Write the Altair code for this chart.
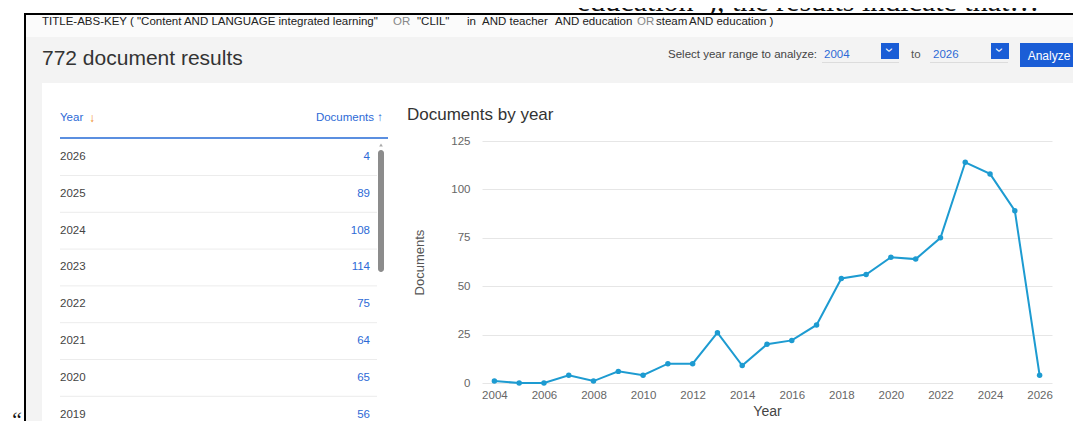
import altair as alt
import pandas as pd

# ---------------- data ----------------
years = list(range(2004, 2027))
docs = [1, 0, 0, 4, 1, 6, 4, 10, 10, 26, 9, 20, 22, 30, 54, 56, 65, 64, 75, 114, 108, 89, 4]
x_ticks = list(range(2004, 2027, 2))
y_ticks = [0, 25, 50, 75, 100, 125]
table_first_year = 2019

query_parts = [
    ('TITLE-ABS-KEY ( "Content AND LANGUAGE integrated learning"', "#222"),
    ("OR", "#888"),
    ('"CLIL"', "#222"),
    ("in", "#222"),
    ("AND teacher", "#222"),
    ("AND education", "#222"),
    ("OR", "#888"),
    ("steam", "#222"),
    ("AND education )", "#222"),
]
query_x = [42, 393, 417, 467, 482, 555, 637, 656, 689]

df = pd.DataFrame({"year": years, "docs": docs})

# ---------------- styling / layout ----------------
SANS = "Liberation Sans"
SERIF = "Liberation Serif"
LINE = "#1d9bd1"
BLUE = "#2d6ad6"
BTN = "#1a5dd6"
GRAY_BG = "#f3f3f3"

W, H = 1065, 413          # whole svg
PL, PT = 474, 133         # plot origin inside svg
PW, PH = 570, 242         # plot size
OX, OY = PL + 8, PT + 8   # plot origin in screenshot coordinates

one = alt.Data(values=[{"k": 1}])


def X(v):
    return v - OX


def Y(v):
    return v - OY


def rect(x1, y1, x2, y2, color, **kw):
    return alt.Chart(one).mark_rect(color=color, **kw).encode(
        x=alt.value(X(x1)), x2=alt.value(X(x2)), y=alt.value(Y(y1)), y2=alt.value(Y(y2))
    )


def text(s, x, y, size=11.5, color="#333", align="left", font=SANS, baseline="middle", **kw):
    return alt.Chart(one).mark_text(
        text=s, fontSize=size, color=color, align=align, baseline=baseline, font=font, **kw
    ).encode(x=alt.value(X(x)), y=alt.value(Y(y)))


layers = []
# surrounding document text (partly hidden behind the frame)
layers.append(text("education\u201d), the results indicate that\u2026", 577, 11, size=30,
                   color="#111", font=SERIF, baseline="alphabetic"))

# page frame and grey backgrounds (kept off the plot area)
layers.append(rect(26, 15, 1081, 37, "#fbfbfb"))
layers.append(rect(26, 37, 1081, 83, GRAY_BG))
layers.append(rect(26, 37, 42, 421, GRAY_BG))
layers.append(rect(1077, 83, 1081, 421, GRAY_BG))
layers.append(rect(24, 13, 26, 421, "black"))
layers.append(rect(24, 13, 1081, 15, "black"))
layers.append(text("\u201c", 10, 427, size=22, color="#111", font=SERIF,
                   baseline="alphabetic", fontStyle="italic"))

# query line
for (s, c), qx in zip(query_parts, query_x):
    layers.append(text(s, qx, 24.5, size=11.5, color=c, baseline="alphabetic"))

# header
layers.append(text("772 document results", 42, 65, size=21, color="#333", baseline="alphabetic"))
layers.append(text("Select year range to analyze:", 817, 55, size=11.5, color="#444", align="right"))
for val, tx, ux1, ux2, sq in [("2004", 824, 822, 899, 881), ("2026", 933, 930, 1008, 991)]:
    layers.append(text(val, tx, 55, size=11.5, color=BLUE))
    layers.append(rect(ux1, 62, ux2, 63, "#dcdcdc"))
    layers.append(rect(sq, 43, sq + 18, 59, BTN))
    layers.append(text("\u203a", sq + 9, 50, size=15, color="white", align="center", angle=90))
layers.append(text("to", 911, 55, size=11.5, color="#555"))
layers.append(rect(1020, 43, 1078, 67, BTN))
layers.append(text("Analyze", 1049, 56, size=12, color="white", align="center"))

# table header
layers.append(text("Year", 60, 118, size=11.5, color=BLUE))
layers.append(text("\u2193", 89, 118, size=12, color="#f08a24"))
layers.append(text("Documents \u2191", 383, 118, size=11.5, color=BLUE, align="right"))
layers.append(rect(60, 137, 388, 139, "#5b8fe0"))

# scrollbar
layers.append(rect(378, 150, 384, 272, "#8c8c8c", cornerRadius=3))
layers.append(alt.Chart(one).mark_point(shape="triangle-up", filled=True, size=14, color="#aaa", opacity=1)
              .encode(x=alt.value(X(381)), y=alt.value(Y(145))))

# chart title
layers.append(text("Documents by year", 407, 120, size=17, color="#333", baseline="alphabetic"))

# table rows (data driven)
row_scale = alt.Scale(type="point", range=[Y(157), Y(157) + 7 * 36.8], padding=0)
ty = alt.Y("year:O", sort="descending", scale=row_scale, axis=None)
tbase = alt.Chart(df).transform_filter(alt.datum.year >= table_first_year)
layers.append(tbase.mark_rule(color="#ececec", strokeWidth=1, yOffset=18.5)
              .encode(x=alt.value(X(60)), x2=alt.value(X(377)), y=ty))
layers.append(tbase.mark_text(font=SANS, fontSize=11.5, color="#444", align="left", baseline="middle")
              .encode(x=alt.value(X(60)), y=ty, text=alt.Text("year:O")))
layers.append(tbase.mark_text(font=SANS, fontSize=11.5, color=BLUE, align="right", baseline="middle")
              .encode(x=alt.value(X(370)), y=ty, text=alt.Text("docs:Q")))

# main line chart
line = alt.Chart(df).mark_line(
    color=LINE, strokeWidth=2,
    point=alt.OverlayMarkDef(filled=True, size=30, color=LINE, opacity=1),
).encode(
    x=alt.X("year:Q",
            scale=alt.Scale(domain=[2003.5, 2026.5], nice=False, zero=False),
            axis=alt.Axis(values=x_ticks, format="d", grid=False, ticks=False, domain=False,
                          labelPadding=6, labelFlush=False, labelFont=SANS, labelFontSize=11.5,
                          labelColor="#666", title="Year", titleFont=SANS, titleFontSize=14,
                          titleColor="#444", titleFontWeight="normal", titlePadding=4)),
    y=alt.Y("docs:Q",
            scale=alt.Scale(domain=[0, 125], nice=False),
            axis=alt.Axis(values=y_ticks, grid=True, gridColor="#e6e6e6", ticks=False, domain=False,
                          labelPadding=12, labelFont=SANS, labelFontSize=11.5, labelColor="#666",
                          title="Documents", titleFont=SANS, titleFontSize=13, titleColor="#555",
                          titleFontWeight="normal", titlePadding=24)),
)
layers.append(line)

chart = alt.layer(*layers).resolve_scale(y="independent").properties(
    width=PW, height=PH,
    padding={"left": PL, "top": PT, "right": W - PL - PW, "bottom": H - PT - PH},
    autosize=alt.AutoSizeParams(type="none"),
    background="white",
).configure_view(stroke=None)

chart.save("out.html", embed_options={"renderer": "svg", "actions": False})
